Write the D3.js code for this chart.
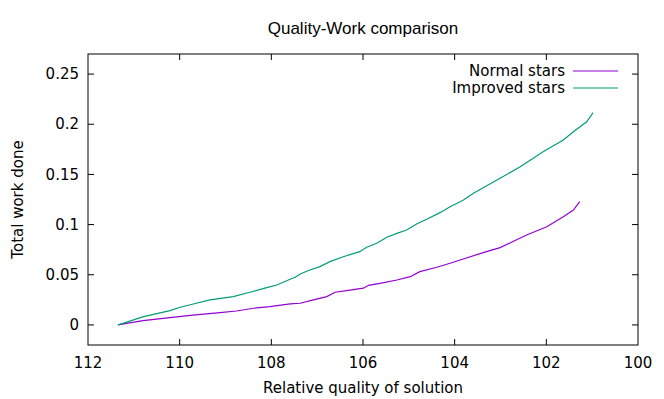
<!DOCTYPE html>
<html>
<head>
<meta charset="utf-8">
<script src="https://cdn.jsdelivr.net/npm/d3@7"></script>
<style>
  body { margin: 0; background: #fff; }
  text { font-family: "DejaVu Sans", sans-serif; fill: #000; }
  .title { font-family: "Liberation Sans", Arial, sans-serif; }
</style>
</head>
<body>
<div id="chart"></div>
<script>
// quality of solution (x) and total work done (y)
var normalX = [111.35, 110.80, 110.21, 109.71, 109.12, 108.76, 108.39, 108.03, 107.59, 107.37,
  107.08, 106.79, 106.61, 106.36, 105.99, 105.88, 105.63, 105.26, 104.97, 104.76,
  104.39, 104.10, 103.88, 103.38, 103.01, 102.43, 101.99, 101.63, 101.41, 101.30, 101.27];
var normalY = [0, 0.0043, 0.0073, 0.0097, 0.0123, 0.0139, 0.0166, 0.0182, 0.0209, 0.0216,
  0.0249, 0.0282, 0.0326, 0.0342, 0.0366, 0.0395, 0.0415, 0.0448, 0.0481, 0.0531,
  0.0575, 0.0615, 0.0647, 0.0720, 0.0770, 0.0896, 0.0979, 0.1079, 0.1145, 0.1212, 0.1228];

var improvedX = [111.34, 110.79, 110.21, 109.99, 109.70, 109.34, 108.83, 108.47, 108.10, 107.88,
  107.59, 107.48, 107.37, 107.16, 106.94, 106.72, 106.43, 106.07, 105.92, 105.70,
  105.48, 105.26, 105.05, 104.83, 104.61, 104.32, 104.10, 103.88, 103.81, 103.59,
  103.01, 102.57, 102.07, 101.63, 101.41, 101.12, 100.98];
var improvedY = [0, 0.0083, 0.0142, 0.0176, 0.0209, 0.0249, 0.0282, 0.0326, 0.0372, 0.0398,
  0.0455, 0.0475, 0.0508, 0.0548, 0.0581, 0.0631, 0.0680, 0.0730, 0.0774, 0.0814,
  0.0874, 0.0913, 0.0946, 0.1006, 0.1053, 0.1119, 0.1178, 0.1228, 0.1245, 0.1312,
  0.1461, 0.1577, 0.1726, 0.1843, 0.1925, 0.2025, 0.2115];

var xTicks = [112, 110, 108, 106, 104, 102, 100];
var yTicks = [0, 0.05, 0.1, 0.15, 0.2, 0.25];

var series = [
  { key: "Normal stars", color: "#9400d3", xs: normalX, ys: normalY },
  { key: "Improved stars", color: "#009e73", xs: improvedX, ys: improvedY }
];

var width = 664, height = 399;
var margin = { top: 54, right: 26, bottom: 54, left: 88 };
var w = width - margin.left - margin.right,
    h = height - margin.top - margin.bottom;

var svg = d3.select("#chart").append("svg")
    .attr("width", width)
    .attr("height", height);
var g = svg.append("g")
    .attr("transform", "translate(" + margin.left + "," + margin.top + ")");

// reversed x axis like the original
var x = d3.scaleLinear().domain([112, 100]).range([0, w]);
var y = d3.scaleLinear().domain([-0.02, 0.27]).range([h, 0]);

var tickLen = 6;

// ticks on all four sides, pointing inward
var tickColor = "#000";
xTicks.forEach(function(t) {
  if (t === 112 || t === 100) return;
  g.append("line").attr("x1", x(t)).attr("x2", x(t)).attr("y1", h).attr("y2", h - tickLen)
    .attr("stroke", tickColor);
  g.append("line").attr("x1", x(t)).attr("x2", x(t)).attr("y1", 0).attr("y2", tickLen)
    .attr("stroke", tickColor);
});
yTicks.forEach(function(t) {
  g.append("line").attr("x1", 0).attr("x2", tickLen).attr("y1", y(t)).attr("y2", y(t))
    .attr("stroke", tickColor);
  g.append("line").attr("x1", w).attr("x2", w - tickLen).attr("y1", y(t)).attr("y2", y(t))
    .attr("stroke", tickColor);
});

// tick labels
g.selectAll(".xlab").data(xTicks).enter().append("text")
  .attr("class", "xlab")
  .attr("x", function(d) { return x(d); })
  .attr("y", h + 23)
  .attr("text-anchor", "middle")
  .style("font-size", "15px")
  .text(function(d) { return d; });

g.selectAll(".ylab").data(yTicks).enter().append("text")
  .attr("class", "ylab")
  .attr("x", -9)
  .attr("y", function(d) { return y(d); })
  .attr("dy", "0.35em")
  .attr("text-anchor", "end")
  .style("font-size", "15px")
  .text(function(d) { return d; });

// frame
g.append("rect")
  .attr("x", 0).attr("y", 0).attr("width", w).attr("height", h)
  .attr("fill", "none").attr("stroke", "#000").attr("stroke-width", 1);

// lines
var line = d3.line()
  .x(function(d) { return x(d[0]); })
  .y(function(d) { return y(d[1]); });

series.forEach(function(s) {
  var pts = s.xs.map(function(v, i) { return [v, s.ys[i]]; });
  g.append("path")
    .attr("d", line(pts))
    .attr("fill", "none")
    .attr("stroke", s.color)
    .attr("stroke-width", 1.2);
});

// legend
var legend = g.append("g").attr("class", "legend");
series.forEach(function(s, i) {
  var ly = 17 + i * 17;
  legend.append("text")
    .attr("x", 477)
    .attr("y", ly)
    .attr("dy", "0.35em")
    .attr("text-anchor", "end")
    .style("font-size", "15px")
    .text(s.key);
  legend.append("line")
    .attr("x1", 485).attr("x2", 530)
    .attr("y1", ly).attr("y2", ly)
    .attr("stroke", s.color).attr("stroke-width", 1.2);
});

// titles
svg.append("text")
  .attr("class", "title")
  .attr("x", margin.left + w / 2)
  .attr("y", 34)
  .attr("text-anchor", "middle")
  .style("font-size", "17px")
  .text("Quality-Work comparison");

svg.append("text")
  .attr("x", margin.left + w / 2)
  .attr("y", 393)
  .attr("text-anchor", "middle")
  .style("font-size", "15px")
  .text("Relative quality of solution");

svg.append("text")
  .attr("transform", "translate(23," + (margin.top + h / 2) + ") rotate(-90)")
  .attr("text-anchor", "middle")
  .style("font-size", "15px")
  .text("Total work done");
</script>
</body>
</html>
